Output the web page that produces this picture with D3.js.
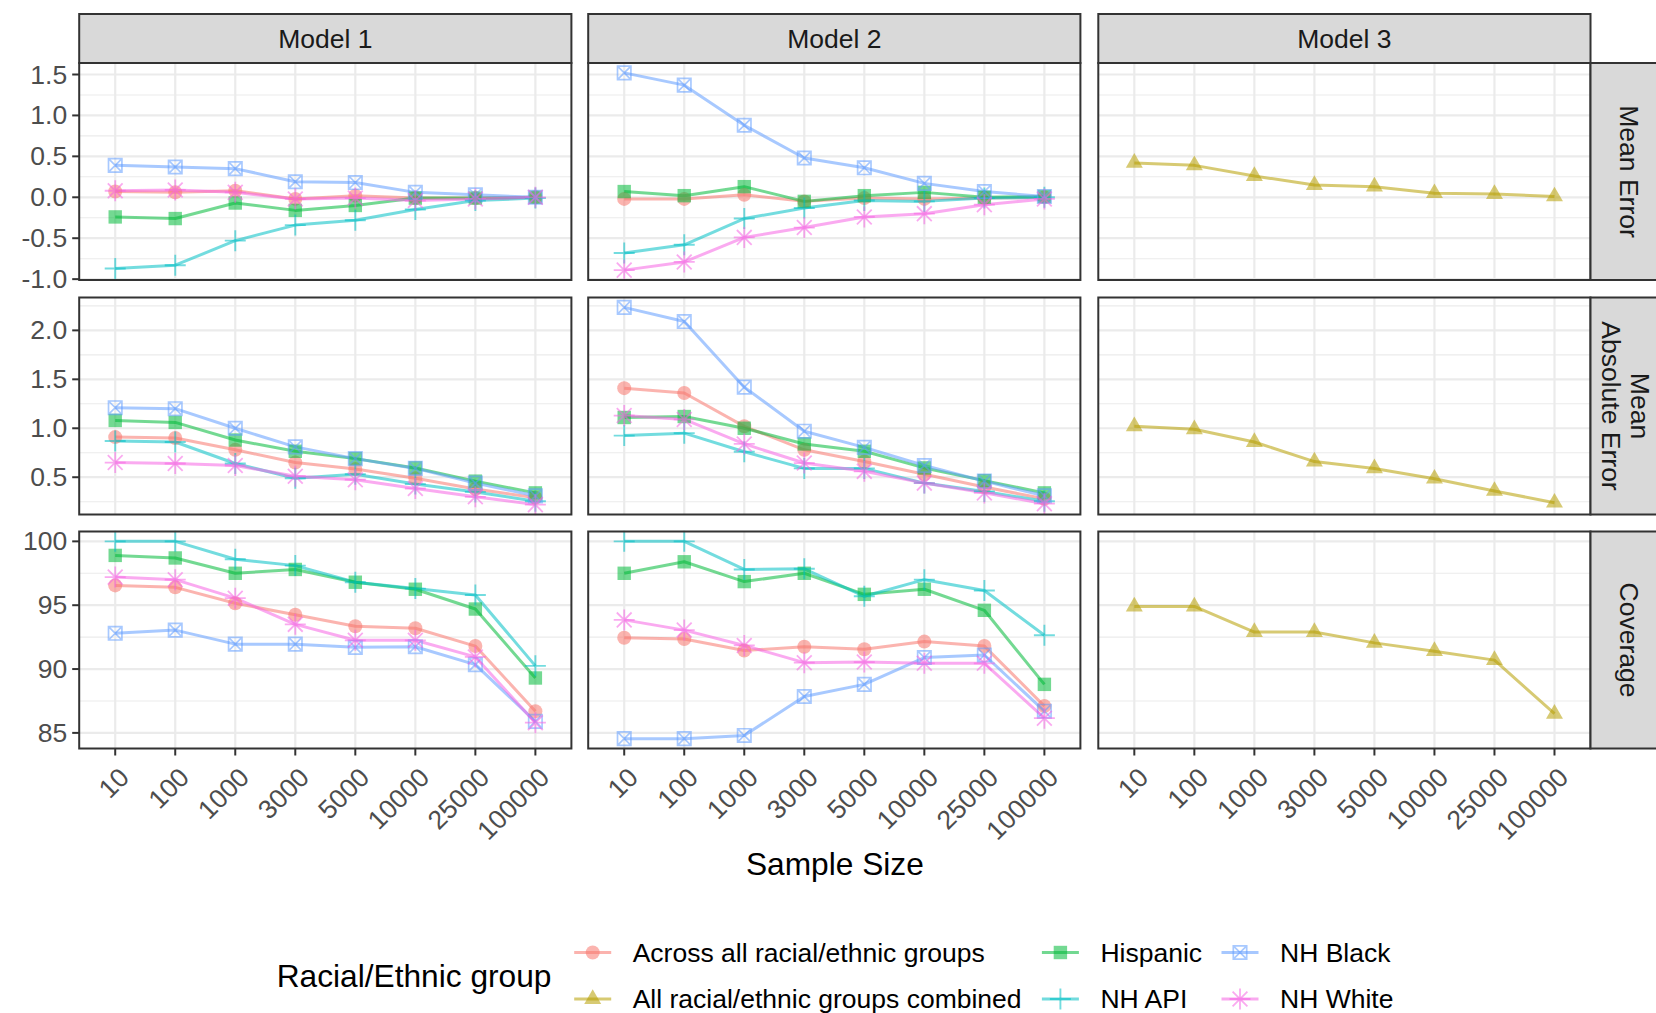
<!DOCTYPE html>
<html><head><meta charset="utf-8">
<script src="https://cdn.jsdelivr.net/npm/d3@7"></script>
<style>
body{margin:0;background:#fff;}
svg{display:block;font-family:"Liberation Sans",Arial,Helvetica,sans-serif;}
</style>
</head><body>
<svg id="chart" width="1656" height="1013"></svg>
<script>
// ---------------- DATA ----------------
const sampleSizes = ["10","100","1000","3000","5000","10000","25000","100000"];
const models = ["Model 1","Model 2","Model 3"];
const metrics = ["Mean Error","Mean Absolute Error","Coverage"];
const metricStripLines = [["Mean Error"],["Mean","Absolute Error"],["Coverage"]];
const groups = ["Across all racial/ethnic groups","All racial/ethnic groups combined","Hispanic","NH API","NH Black","NH White"];
const groupColors = ["#F8766D","#B79F00","#00BA38","#00BFC4","#619CFF","#F564E3"];
const groupShapes = ["circle","triangle","square","plus","squareCross","asterisk"];

// Mean Error
const me_m1_across   = [0.07,0.06,0.08,-0.02,0.02,-0.01,-0.01,0.00];
const me_m1_hispanic = [-0.24,-0.26,-0.07,-0.16,-0.10,-0.01,-0.01,0.00];
const me_m1_api      = [-0.87,-0.83,-0.53,-0.34,-0.28,-0.15,-0.04,-0.01];
const me_m1_black    = [0.39,0.37,0.35,0.19,0.18,0.06,0.03,0.00];
const me_m1_white    = [0.08,0.09,0.06,-0.02,-0.01,-0.04,-0.02,0.00];
const me_m2_across   = [-0.02,-0.02,0.03,-0.05,-0.01,-0.02,-0.01,0.00];
const me_m2_hispanic = [0.07,0.02,0.13,-0.05,0.02,0.06,0.00,0.01];
const me_m2_api      = [-0.68,-0.58,-0.26,-0.13,-0.04,-0.05,-0.01,0.00];
const me_m2_black    = [1.52,1.37,0.88,0.48,0.36,0.17,0.07,0.01];
const me_m2_white    = [-0.89,-0.79,-0.49,-0.37,-0.24,-0.20,-0.09,-0.02];
const me_m3_combined = [0.42,0.39,0.26,0.15,0.13,0.05,0.04,0.01];

// Mean Absolute Error
const mae_m1_across   = [0.91,0.90,0.78,0.65,0.585,0.49,0.38,0.29];
const mae_m1_hispanic = [1.08,1.06,0.88,0.765,0.69,0.595,0.46,0.34];
const mae_m1_api      = [0.87,0.86,0.64,0.49,0.53,0.43,0.35,0.255];
const mae_m1_black    = [1.21,1.20,1.00,0.81,0.69,0.59,0.44,0.31];
const mae_m1_white    = [0.65,0.64,0.62,0.51,0.475,0.385,0.30,0.22];
const mae_m2_across   = [1.41,1.36,1.02,0.78,0.66,0.53,0.40,0.28];
const mae_m2_hispanic = [1.11,1.12,1.00,0.84,0.765,0.595,0.465,0.34];
const mae_m2_api      = [0.925,0.95,0.76,0.59,0.59,0.44,0.355,0.255];
const mae_m2_black    = [2.235,2.09,1.42,0.97,0.805,0.62,0.46,0.31];
const mae_m2_white    = [1.13,1.09,0.84,0.645,0.56,0.44,0.34,0.23];
const mae_m3_combined = [1.02,0.99,0.86,0.66,0.59,0.485,0.36,0.24];

// Coverage
const cov_m1_across   = [96.55,96.4,95.15,94.25,93.35,93.2,91.8,86.7];
const cov_m1_hispanic = [98.9,98.7,97.5,97.8,96.8,96.25,94.7,89.3];
const cov_m1_api      = [100,100,98.6,98.1,96.8,96.3,95.8,90.25];
const cov_m1_black    = [92.8,93.05,91.95,91.95,91.7,91.75,90.35,85.9];
const cov_m1_white    = [97.2,97.0,95.55,93.5,92.25,92.25,90.95,85.8];
const cov_m2_across   = [92.45,92.35,91.45,91.75,91.55,92.15,91.8,87.1];
const cov_m2_hispanic = [97.5,98.4,96.85,97.5,95.85,96.25,94.6,88.8];
const cov_m2_api      = [100,100,97.8,97.85,95.7,97.0,96.15,92.65];
const cov_m2_black    = [84.55,84.55,84.8,87.85,88.8,90.9,91.1,86.7];
const cov_m2_white    = [93.85,93.05,91.85,90.5,90.55,90.45,90.45,86.15];
const cov_m3_combined = [94.9,94.9,92.9,92.9,92.05,91.4,90.7,86.5];

// Tick values per row
const meTicks  = [-1.0,-0.5,0,0.5,1.0,1.5];
const maeTicks = [0.5,1.0,1.5,2.0];
const covTicks = [85,90,95,100];
const rowTicks = [meTicks, maeTicks, covTicks];
const rowTickFormats = [".1f", ".1f", "d"];

// ---------------- TABLE ----------------
const series = [
  [0,0,0,me_m1_across],[0,0,2,me_m1_hispanic],[0,0,3,me_m1_api],[0,0,4,me_m1_black],[0,0,5,me_m1_white],
  [0,1,0,me_m2_across],[0,1,2,me_m2_hispanic],[0,1,3,me_m2_api],[0,1,4,me_m2_black],[0,1,5,me_m2_white],
  [0,2,1,me_m3_combined],
  [1,0,0,mae_m1_across],[1,0,2,mae_m1_hispanic],[1,0,3,mae_m1_api],[1,0,4,mae_m1_black],[1,0,5,mae_m1_white],
  [1,1,0,mae_m2_across],[1,1,2,mae_m2_hispanic],[1,1,3,mae_m2_api],[1,1,4,mae_m2_black],[1,1,5,mae_m2_white],
  [1,2,1,mae_m3_combined],
  [2,0,0,cov_m1_across],[2,0,2,cov_m1_hispanic],[2,0,3,cov_m1_api],[2,0,4,cov_m1_black],[2,0,5,cov_m1_white],
  [2,1,0,cov_m2_across],[2,1,2,cov_m2_hispanic],[2,1,3,cov_m2_api],[2,1,4,cov_m2_black],[2,1,5,cov_m2_white],
  [2,2,1,cov_m3_combined]
].map(([r,c,g,v]) => ({row:r, col:c, group:g, values:v}));

// ---------------- LAYOUT ----------------
const colX = [79.2, 588.2, 1098.3];
const panelW = 492.2;
const rowY = [63, 297.5, 531.5];
const panelH = 217;
const topStripY = 14, topStripH = 49;
const rightStripX = 1590.5, rightStripW = 78;
const tickFont = 26.5, titleFont = 31.7;
const gridCol = "#EBEBEB", borderCol = "#333333";
const ALPHA = 0.55;

const locale = d3.formatLocale({decimal: ".", thousands: ",", grouping: [3], currency: ["$", ""], minus: "-"});

const svg = d3.select("#chart");

const x = d3.scalePoint().domain(sampleSizes).range([0, panelW]).padding(0.6);

const yScales = metrics.map((m, r) => {
  const vals = series.filter(s => s.row === r).flatMap(s => s.values);
  const [lo, hi] = d3.extent(vals);
  const pad = (hi - lo) * 0.05;
  return d3.scaleLinear().domain([lo - pad, hi + pad]).range([panelH, 0]);
});

function minorTicks(ticks, domain) {
  const step = ticks[1] - ticks[0];
  const out = [];
  for (let i = -1; i < ticks.length; i++) {
    const v = ticks[0] + step * (i + 0.5);
    if (v >= domain[0] && v <= domain[1]) out.push(v);
  }
  return out;
}

function drawShape(g, shape, cx, cy, color) {
  const o = ALPHA;
  if (shape === "circle") {
    g.append("circle").attr("cx", cx).attr("cy", cy).attr("r", 7).attr("fill", color).attr("opacity", o);
  } else if (shape === "triangle") {
    const r = 9.8;
    g.append("path").attr("d", `M${cx},${cy - r}L${cx + r * 0.866},${cy + r / 2}L${cx - r * 0.866},${cy + r / 2}Z`)
      .attr("fill", color).attr("opacity", o);
  } else if (shape === "square") {
    const h = 6.7;
    g.append("rect").attr("x", cx - h).attr("y", cy - h).attr("width", 2 * h).attr("height", 2 * h)
      .attr("fill", color).attr("opacity", o);
  } else if (shape === "plus") {
    const a = 10.5;
    g.append("path").attr("d", `M${cx - a},${cy}H${cx + a}M${cx},${cy - a}V${cy + a}`)
      .attr("stroke", color).attr("stroke-width", 1.9).attr("fill", "none").attr("opacity", o);
  } else if (shape === "squareCross") {
    const h = 6.7;
    g.append("path").attr("d", `M${cx - h},${cy - h}H${cx + h}V${cy + h}H${cx - h}ZM${cx - h},${cy - h}L${cx + h},${cy + h}M${cx + h},${cy - h}L${cx - h},${cy + h}`)
      .attr("stroke", color).attr("stroke-width", 1.7).attr("fill", "none").attr("opacity", o);
  } else if (shape === "asterisk") {
    const a = 10.5, d = 7.4;
    g.append("path").attr("d", `M${cx - a},${cy}H${cx + a}M${cx},${cy - a}V${cy + a}M${cx - d},${cy - d}L${cx + d},${cy + d}M${cx + d},${cy - d}L${cx - d},${cy + d}`)
      .attr("stroke", color).attr("stroke-width", 1.8).attr("fill", "none").attr("opacity", o);
  }
}

// ---------------- PANELS ----------------
metrics.forEach((metric, r) => {
  const y = yScales[r];
  const majors = rowTicks[r];
  const minors = minorTicks(majors, y.domain());
  models.forEach((model, c) => {
    const g = svg.append("g").attr("transform", `translate(${colX[c]},${rowY[r]})`);
    g.append("rect").attr("width", panelW).attr("height", panelH).attr("fill", "#fff");
    g.selectAll(".minor").data(minors).join("line")
      .attr("x1", 0).attr("x2", panelW).attr("y1", d => y(d)).attr("y2", d => y(d))
      .attr("stroke", gridCol).attr("stroke-width", 1.1);
    g.selectAll(".majy").data(majors).join("line")
      .attr("x1", 0).attr("x2", panelW).attr("y1", d => y(d)).attr("y2", d => y(d))
      .attr("stroke", gridCol).attr("stroke-width", 2.2);
    g.selectAll(".majx").data(sampleSizes).join("line")
      .attr("x1", d => x(d)).attr("x2", d => x(d)).attr("y1", 0).attr("y2", panelH)
      .attr("stroke", gridCol).attr("stroke-width", 2.2);

    const ps = series.filter(s => s.row === r && s.col === c).sort((a, b) => a.group - b.group);
    const line = d3.line().x((d, i) => x(sampleSizes[i])).y(d => y(d));
    ps.forEach(s => {
      g.append("path").attr("d", line(s.values)).attr("fill", "none")
        .attr("stroke", groupColors[s.group]).attr("stroke-width", 3).attr("opacity", ALPHA)
        .attr("stroke-linejoin", "round");
    });
    ps.forEach(s => {
      s.values.forEach((v, i) => drawShape(g, groupShapes[s.group], x(sampleSizes[i]), y(v), groupColors[s.group]));
    });

    g.append("rect").attr("width", panelW).attr("height", panelH).attr("fill", "none")
      .attr("stroke", borderCol).attr("stroke-width", 2);

    if (c === 0) {
      const fmt = locale.format(rowTickFormats[r]);
      majors.forEach(t => {
        g.append("line").attr("x1", -7).attr("x2", 0).attr("y1", y(t)).attr("y2", y(t))
          .attr("stroke", borderCol).attr("stroke-width", 2);
        g.append("text").attr("x", -12).attr("y", y(t)).attr("text-anchor", "end")
          .attr("dominant-baseline", "central").attr("font-size", tickFont).attr("fill", "#4D4D4D")
          .text(fmt(t));
      });
    }
    if (r === metrics.length - 1) {
      sampleSizes.forEach(s => {
        g.append("line").attr("x1", x(s)).attr("x2", x(s)).attr("y1", panelH).attr("y2", panelH + 7)
          .attr("stroke", borderCol).attr("stroke-width", 2);
        g.append("text").attr("transform", `translate(${x(s) + 2},${panelH + 17}) rotate(-45)`)
          .attr("text-anchor", "end").attr("dy", "0.72em").attr("font-size", tickFont).attr("fill", "#4D4D4D")
          .text(s);
      });
    }
  });
  const sg = svg.append("g");
  sg.append("rect").attr("x", rightStripX).attr("y", rowY[r]).attr("width", rightStripW).attr("height", panelH)
    .attr("fill", "#D9D9D9").attr("stroke", borderCol).attr("stroke-width", 2);
  const lines = metricStripLines[r];
  const cx = rightStripX + (lines.length > 1 ? 34.5 : 38), cy = rowY[r] + panelH / 2;
  const t = sg.append("text").attr("transform", `translate(${cx},${cy}) rotate(90)`)
    .attr("text-anchor", "middle").attr("font-size", tickFont).attr("fill", "#1A1A1A");
  lines.forEach((ln, i) => {
    t.append("tspan").attr("x", 0).attr("y", (i - (lines.length - 1) / 2) * 29)
      .attr("dominant-baseline", "central").text(ln);
  });
});

models.forEach((m, c) => {
  svg.append("rect").attr("x", colX[c]).attr("y", topStripY).attr("width", panelW).attr("height", topStripH)
    .attr("fill", "#D9D9D9").attr("stroke", borderCol).attr("stroke-width", 2);
  svg.append("text").attr("x", colX[c] + panelW / 2).attr("y", topStripY + topStripH / 2)
    .attr("text-anchor", "middle").attr("dominant-baseline", "central")
    .attr("font-size", tickFont).attr("fill", "#1A1A1A").text(m);
});

svg.append("text").attr("x", (colX[0] + colX[2] + panelW) / 2).attr("y", 875)
  .attr("text-anchor", "middle").attr("font-size", titleFont).attr("fill", "#000").text("Sample Size");

// ---------------- LEGEND ----------------
const legendTitle = "Racial/Ethnic group";
const legendColX = [632.7, 1100.4, 1280];
const legendRowY = [952.5, 999];
svg.append("text").attr("x", 276.7).attr("y", (legendRowY[0] + legendRowY[1]) / 2)
  .attr("dominant-baseline", "central").attr("font-size", titleFont).attr("fill", "#000").text(legendTitle);
groups.forEach((gname, i) => {
  const col = Math.floor(i / 2), row = i % 2;
  const lx = legendColX[col], ly = legendRowY[row];
  const kc = lx - 40;
  const lg = svg.append("g");
  lg.append("line").attr("x1", kc - 18.5).attr("x2", kc + 18.5).attr("y1", ly).attr("y2", ly)
    .attr("stroke", groupColors[i]).attr("stroke-width", 3).attr("opacity", ALPHA);
  drawShape(lg, groupShapes[i], kc, ly, groupColors[i]);
  lg.append("text").attr("x", lx).attr("y", ly).attr("dominant-baseline", "central")
    .attr("font-size", tickFont).attr("fill", "#000").text(gname);
});
</script>
</body></html>
